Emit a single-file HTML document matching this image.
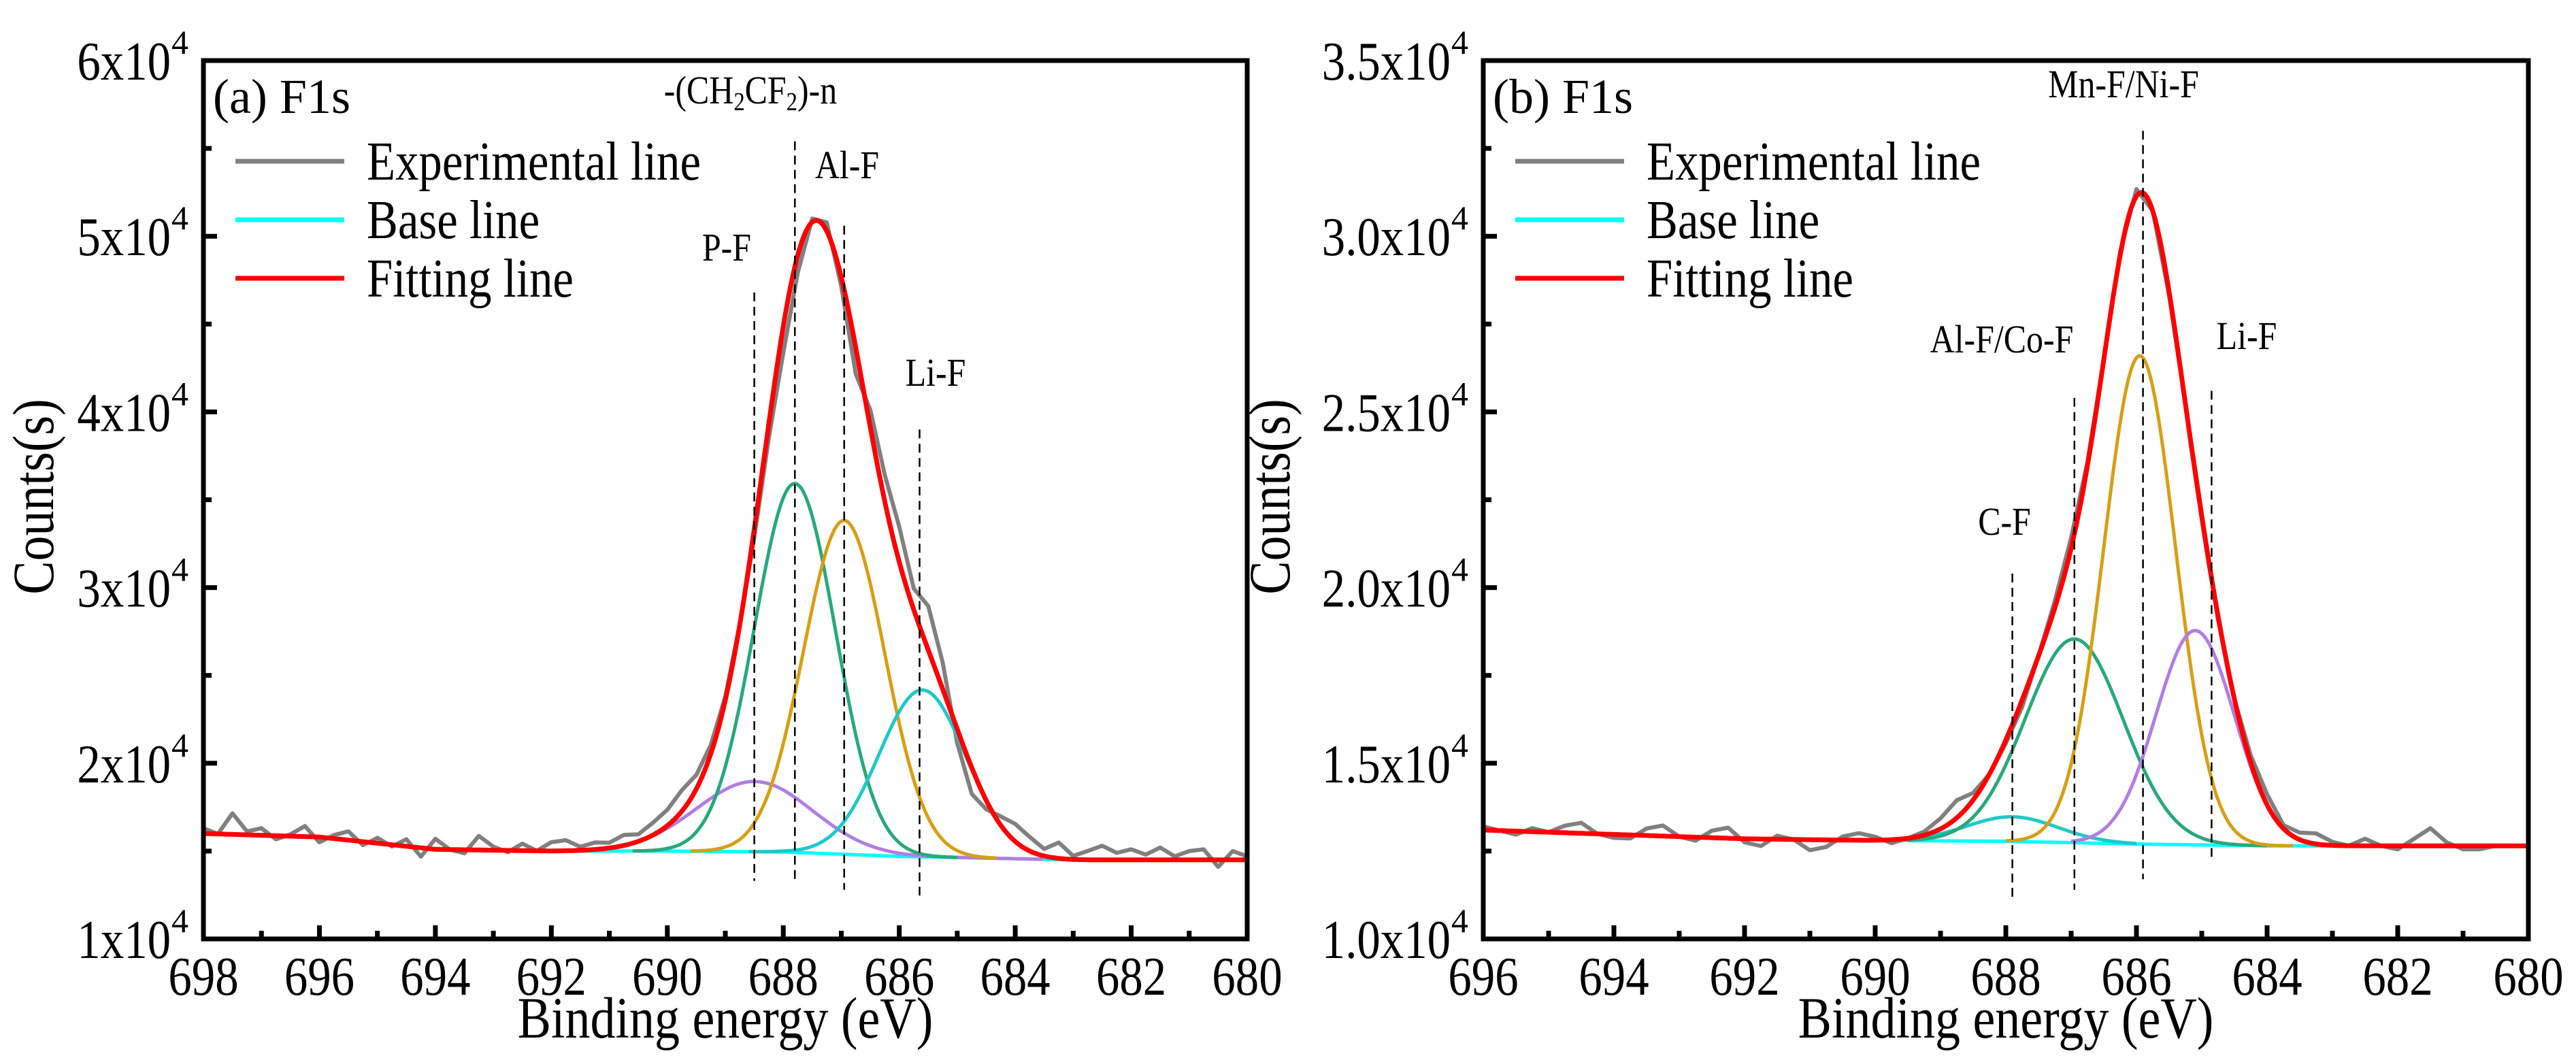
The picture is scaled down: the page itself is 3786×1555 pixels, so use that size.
<!DOCTYPE html>
<html><head><meta charset="utf-8"><style>
html,body{margin:0;padding:0;background:#fff;}
svg{display:block;}
svg text{font-family:"Liberation Serif","Times New Roman",serif;}
</style></head><body>
<svg id="fig" width="3786" height="1555" viewBox="0 0 3786 1555" xmlns="http://www.w3.org/2000/svg" font-family="Liberation Serif, serif"></svg>
<script>
// ---- Panel (a) data ----
const aXTicks = [698,696,694,692,690,688,686,684,682,680];
const aYTicks = [1,2,3,4,5,6];
const aYTickLabels = ["1x10","2x10","3x10","4x10","5x10","6x10"];
const aBaseX = [698,696,694,692,690,688,686,683,680];
const aBaseY = [1.60,1.58,1.51,1.50,1.50,1.495,1.47,1.45,1.45];
const aPeakNames = ["P-F","CH2CF2","Al-F","Li-F"];
const aPeakCenters = [688.5,687.8,686.95,685.6];
const aPeakAmps = [0.40,2.10,1.90,0.95];
const aPeakSigmas = [1.0,0.70,0.70,0.75];
const aPeakFrom = [691.2,690.6,689.6,688.6];
const aPeakTo = [683.5,685.0,684.3,682.5];
const aResid = [0.03,0.0,0.12,0.02,0.04,-0.02,0.01,0.06,-0.03,0.02,0.05,-0.02,0.03,-0.01,0.04,-0.05,0.06,0.0,-0.02,0.08,0.02,-0.01,0.04,0.0,0.05,0.06,0.02,0.04,0.03,0.06,0.04,0.07,0.09,0.12,0.08,0.05,0.02,0.0,-0.05,-0.08,-0.15,-0.1,0.02,0.05,-0.05,-0.15,0.1,0.15,0.2,0.12,0.25,0.15,-0.08,-0.15,-0.05,0.05,0.1,0.08,0.04,0.09,0.02,0.05,0.08,0.04,0.06,0.03,0.07,0.02,0.05,0.06,-0.04,0.05,0.02];
const aDashX = [688.5,687.8,686.95,685.65];
const aDashTop = [4.68,5.54,5.06,3.9];
// ---- Panel (b) data ----
const bXTicks = [696,694,692,690,688,686,684,682,680];
const bYTicks = [1.0,1.5,2.0,2.5,3.0,3.5];
const bYTickLabels = ["1.0x10","1.5x10","2.0x10","2.5x10","3.0x10","3.5x10"];
const bBaseX = [696,692,690,688,686,684,680];
const bBaseY = [1.31,1.285,1.28,1.278,1.27,1.265,1.265];
const bPeakNames = ["C-F","Al-F/Co-F","Mn-F/Ni-F","Li-F"];
const bPeakCenters = [687.9,686.95,685.95,685.1];
const bPeakAmps = [0.07,0.58,1.39,0.61];
const bPeakSigmas = [0.70,0.75,0.55,0.60];
const bPeakFrom = [689.6,689.6,688.0,687.0];
const bPeakTo = [686.0,684.0,683.6,682.5];
const bResid = [0.01,0.0,-0.01,0.01,0.0,0.02,0.03,0.0,-0.01,-0.01,0.02,0.03,0.0,-0.01,0.02,0.03,-0.01,-0.02,0.01,0.0,-0.03,-0.02,0.01,0.02,0.01,-0.01,0.0,0.01,0.03,0.05,0.02,0.0,-0.01,-0.02,0.0,0.02,0.03,0.01,0.0,0.01,0.02,0.0,-0.01,0.0,0.01,-0.01,0.0,0.02,0.03,0.01,0.02,0.03,0.01,0.0,0.02,0.0,-0.01,0.02,0.05,0.01,-0.01,-0.01,0.0,0.0,0.0];
const bDashX = [687.9,686.95,685.9,684.85];
const bDashTop = [2.04,2.54,3.3,2.56];

const compColors = {a:["#b07fe0","#2aa87a","#d4a017","#20c8c8"], b:["#20c8c8","#2aa87a","#d4a017","#b07fe0"]};
const NS="http://www.w3.org/2000/svg";
const svg=document.getElementById('fig');
function mk(tag,attrs,parent){const e=document.createElementNS(NS,tag);if(tag==='text')e.setAttribute('font-family','Liberation Serif, Times New Roman, serif');for(const k in attrs)e.setAttribute(k,attrs[k]);(parent||svg).appendChild(e);return e;}
function interp(xs,ys,x){for(let i=0;i<xs.length-1;i++){const x0=xs[i],x1=xs[i+1];if((x<=x0&&x>=x1)){return ys[i]+(ys[i+1]-ys[i])*(x0-x)/(x0-x1);}}return x>xs[0]?ys[0]:ys[ys.length-1];}
const condensed=[];

function panel(p){
  const g=mk('g',{});
  
  
  const X=v=>p.L+(p.x0-v)*(p.R-p.L)/(p.x0-p.x1);
  const Y=v=>p.B-(v-p.y0)*(p.B-p.T)/(p.y1-p.y0);
  const base=x=>interp(p.baseX,p.baseY,x);
  const comp=(i,x)=>p.amps[i]*Math.exp(-Math.pow(x-p.centers[i],2)/(2*p.sigmas[i]*p.sigmas[i]));
  const fit=x=>{let s=base(x);for(let i=0;i<p.centers.length;i++)s+=comp(i,x);return s;};
  const clip=mk('clipPath',{id:'clip-'+p.id},g);mk('rect',{x:p.L,y:p.T,width:p.R-p.L,height:p.B-p.T},clip);
  const plot=mk('g',{'clip-path':'url(#clip-'+p.id+')'},g);
  let d='';p.resid.forEach((r,i)=>{const x=p.x0-i*0.25;d+=(i?'L':'M')+X(x).toFixed(1)+','+Y(fit(x)+r).toFixed(1);});
  const exp=mk('path',{d:d,fill:'none',stroke:'#808080','stroke-width':6,'stroke-linejoin':'round'},plot);
  
  
  d='';let first=true;for(let x=p.bFrom;x>=p.bTo-1e-9;x-=0.05){d+=(first?'M':'L')+X(x).toFixed(1)+','+Y(base(x)).toFixed(1);first=false;}
  const bl=mk('path',{d:d,fill:'none',stroke:'#00ffff','stroke-width':5},plot);
  
  
  for(let i=0;i<p.centers.length;i++){
    d='';first=true;
    for(let x=p.from[i];x>=p.to[i]-1e-9;x-=0.04){d+=(first?'M':'L')+X(x).toFixed(1)+','+Y(base(x)+comp(i,x)).toFixed(1);first=false;}
    const c=mk('path',{d:d,fill:'none',stroke:p.colors[i],'stroke-width':5},plot);
    
    
  }
  d='';first=true;for(let x=p.x0;x>=p.x1-1e-9;x-=0.04){d+=(first?'M':'L')+X(x).toFixed(1)+','+Y(fit(x)).toFixed(1);first=false;}
  const f=mk('path',{d:d,fill:'none',stroke:'#ff0000','stroke-width':7,'stroke-linejoin':'round'},plot);
  
  
  p.dashX.forEach((dx,i)=>{
    const l=mk('line',{x1:X(dx),x2:X(dx),y1:Y(p.dashTop[i]),y2:Y(p.dashBot[i]),stroke:'#000','stroke-width':2.5,'stroke-dasharray':'13 8'},g);
    
    
  });
  const fr=mk('rect',{x:p.L,y:p.T,width:p.R-p.L,height:p.B-p.T,fill:'none',stroke:'#000','stroke-width':7},g);
  
  
  p.xTicks.forEach((v,i)=>{
    mk('line',{x1:X(v),x2:X(v),y1:p.B,y2:p.B-20,stroke:'#000','stroke-width':7},g);
    if(i<p.xTicks.length-1) mk('line',{x1:X(v-1),x2:X(v-1),y1:p.B,y2:p.B-12,stroke:'#000','stroke-width':7},g);
    const t=mk('text',{x:X(v),y:p.B+82,'text-anchor':'middle','font-size':80},g);t.textContent=v;
    
    
    condensed.push(t);
  });
  p.yTicks.forEach((v,i)=>{
    mk('line',{x1:p.L,x2:p.L+20,y1:Y(v),y2:Y(v),stroke:'#000','stroke-width':7},g);
    if(i<p.yTicks.length-1) mk('line',{x1:p.L,x2:p.L+12,y1:Y(v+p.yStep/2),y2:Y(v+p.yStep/2),stroke:'#000','stroke-width':7},g);
    const t=mk('text',{x:p.L-48,y:Y(v)+28,'text-anchor':'end','font-size':80},g);t.textContent=p.yLabels[i];
    
    
    condensed.push(t);
    const s=mk('text',{x:p.L-47,y:Y(v)-10,'text-anchor':'start','font-size':50},g);s.textContent='4';
    
    
  });
  const xt=mk('text',{x:(p.L+p.R)/2,y:1525,'text-anchor':'middle','font-size':86},g);xt.textContent='Binding energy (eV)';
  
  
  condensed.push(xt);
  const yt=mk('text',{x:0,y:0,'text-anchor':'middle','font-size':86,transform:'translate('+p.ytx+',730) rotate(-90)'},g);yt.textContent='Counts(s)';
  
  
  condensed.push(yt);
  const pt=mk('text',{x:p.L+14,y:166,'font-size':72,'xml:space':'preserve'},g);pt.textContent=p.title;
  
  
  const legNames=['Experimental line','Base line','Fitting line'];const legCol=['#808080','#00ffff','#ff0000'];
  legNames.forEach((n,i)=>{
    const y=237+i*86;
    mk('line',{x1:p.L+47,x2:p.L+207,y1:y,y2:y,stroke:legCol[i],'stroke-width':7},g);
    const t=mk('text',{x:p.L+240,y:y+27,'font-size':80},g);t.textContent=n;
    
    
    condensed.push(t);
  });
  p.labels.forEach(lb=>{
    const t=mk('text',{x:lb.x,y:lb.y,'text-anchor':'middle','font-size':58},g);
    if(lb.html){t.innerHTML=lb.html;}else t.textContent=lb.t;
    
    
    condensed.push(t);
  });
}

panel({id:'a',L:299,R:1833,T:89,B:1380,x0:698,x1:680,y0:1,y1:6,yStep:1,
  xTicks:aXTicks,yTicks:aYTicks,yLabels:aYTickLabels,baseX:aBaseX,baseY:aBaseY,
  names:aPeakNames,centers:aPeakCenters,amps:aPeakAmps,sigmas:aPeakSigmas,from:aPeakFrom,to:aPeakTo,
  resid:aResid,colors:compColors.a,bFrom:691.5,bTo:682.5,
  dashX:aDashX,dashTop:aDashTop,dashBot:[1.33,1.33,1.28,1.22],ytx:78,title:'(a)  F1s',
  labels:[{x:1103,y:152,html:'-(CH<tspan font-size="38" dy="10">2</tspan><tspan dy="-10">CF</tspan><tspan font-size="38" dy="10">2</tspan><tspan dy="-10">)-n</tspan>'},
          {x:1245,y:262,t:'Al-F'},{x:1068,y:383,t:'P-F'},{x:1375,y:567,t:'Li-F'}]});
panel({id:'b',L:2180,R:3716,T:89,B:1380,x0:696,x1:680,y0:1.0,y1:3.5,yStep:0.5,
  xTicks:bXTicks,yTicks:bYTicks,yLabels:bYTickLabels,baseX:bBaseX,baseY:bBaseY,
  names:bPeakNames,centers:bPeakCenters,amps:bPeakAmps,sigmas:bPeakSigmas,from:bPeakFrom,to:bPeakTo,
  resid:bResid,colors:compColors.b,bFrom:689.5,bTo:682.5,
  dashX:bDashX,dashTop:bDashTop,dashBot:[1.12,1.14,1.17,1.22],ytx:1895,title:'(b)  F1s',
  labels:[{x:3121,y:143,t:'Mn-F/Ni-F'},{x:2942,y:518,t:'Al-F/Co-F'},{x:2946,y:786,t:'C-F'},{x:3302,y:513,t:'Li-F'}]});

condensed.forEach(t=>{try{const w=t.getComputedTextLength();t.setAttribute('textLength',(w*0.86).toFixed(1));t.setAttribute('lengthAdjust','spacingAndGlyphs');}catch(e){}});
</script>
</body></html>
